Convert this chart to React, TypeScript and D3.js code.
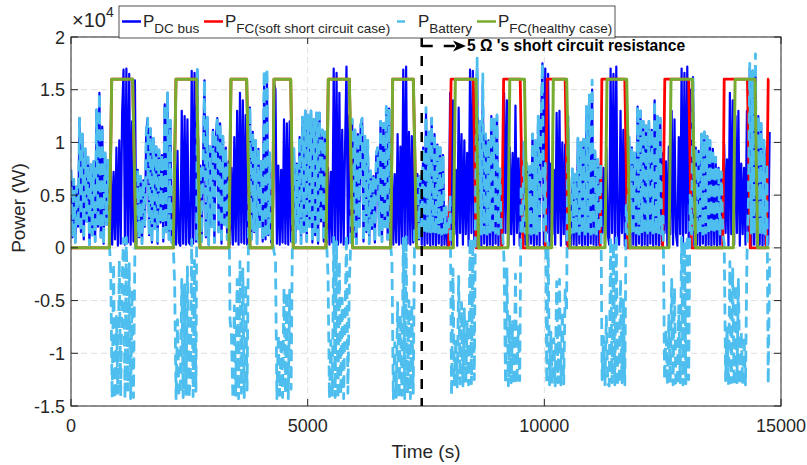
import React from 'react';
import * as d3 from 'd3';

// ---------------- data ----------------
const SAMPLE_STEP_S = 30; // one reading every 30 s

// P_DC bus in kW, one value per sample
const dcBusKW = [
  7.4,1.0,6.5,0.5,5.8,2.0,12.3,1.5,10.8,0.8,9.4,2.5,8.6,0.3,7.9,1.2,8.2,0.6,13.1,2.0,14.7,1.0,11.5,0.4,9.0,2.2,8.3,
  0.5,7.8,0.3,7.2,0.8,9.5,0.2,10.2,0.4,12.8,16.9,0.3,17.0,0.5,16.5,0.3,12.0,0.6,15.9,
  0.5,7.4,1.0,6.8,0.4,6.4,2.0,11.0,12.3,1.2,11.3,0.5,10.4,1.8,9.6,0.4,9.3,2.4,8.8,0.6,13.6,1.5,14.7,0.8,12.1,0.5,
  0.4,9.6,0.3,9.2,0.5,0.2,13.0,0.4,12.5,0.3,12.2,0.5,0.3,16.8,0.4,16.6,0.6,16.9,0.5,
  7.8,0.6,8.0,15.9,1.0,12.4,0.3,9.6,2.0,11.2,0.5,10.4,12.3,1.5,11.8,0.4,10.6,2.2,9.5,0.8,
  8.2,0.4,7.6,0.3,10.5,0.6,13.0,0.3,14.7,0.5,14.0,0.4,12.6,0.3,11.0,
  13.3,0.8,11.0,1.5,10.2,0.4,9.4,2.0,8.2,0.6,15.5,0.8,16.4,1.2,9.0,0.5,
  0.5,15.6,15.0,0.4,7.8,0.3,7.4,0.5,12.2,0.4,11.8,0.3,12.0,0.6,
  2.0,9.4,0.5,8.0,1.8,10.5,0.4,12.4,1.5,13.0,0.6,12.6,2.0,13.0,0.5,12.2,1.2,12.8,0.4,12.8,2.5,11.2,0.6,11.0,
  0.5,7.6,0.3,7.2,0.5,17.0,0.4,16.6,0.3,14.7,0.5,11.2,0.3,9.6,17.2,0.4,12.6,0.5,12.2,
  1.0,11.2,0.4,10.8,2.0,11.6,12.3,0.6,10.6,1.5,10.2,0.4,7.3,1.8,6.8,0.5,9.0,9.5,1.2,12.0,0.6,11.8,2.0,13.4,0.8,13.2,
  0.4,7.4,0.3,7.0,0.5,10.8,0.3,9.6,0.4,16.9,0.3,17.2,0.4,11.0,0.3,10.6,0.5,9.5,
  0.5,7.0,0.8,6.8,0.3,9.5,0.2,12.8,0.4,11.0,0.2,12.3,0.3,10.8,0.2,9.8,0.4,9.5,0.2,8.8,0.3,3.9,0.2,
  1.4,14.7,0.3,14.0,1.3,7.4,0.2,13.3,1.4,10.8,0.3,10.2,1.3,9.0,0.2,16.9,1.4,16.8,0.3,14.0,17.0,
  0.3,12.0,0.2,15.5,0.4,10.8,0.2,10.2,0.3,12.5,0.2,12.2,0.4,12.6,0.2,7.5,0.3,
  0.3,14.7,1.4,14.0,0.2,9.5,1.3,9.0,0.3,13.5,1.4,8.5,0.2,10.5,1.3,10.0,0.3,8.0,
  0.2,7.7,0.4,10.8,0.2,10.2,0.3,12.5,0.2,12.0,17.5,
  0.3,17.0,1.4,16.5,0.2,8.0,1.3,7.4,0.3,12.8,1.4,13.0,0.2,10.0,1.3,9.8,0.3,12.5,1.4,
  0.2,7.5,0.3,7.0,0.2,10.4,0.4,10.0,0.2,10.3,0.3,13.4,0.2,14.5,0.4,15.0,0.3,9.2,0.2,8.4,
  0.3,8.0,1.4,7.6,0.2,9.5,1.3,0.3,17.0,1.4,16.5,0.2,17.2,1.3,0.3,13.0,1.4,11.2,0.2,12.0,1.3,10.5,
  0.2,9.5,0.3,9.0,0.2,13.4,0.4,13.0,0.2,12.0,0.3,11.6,0.2,12.0,0.4,11.2,0.2,14.0,0.3,12.5,0.2,12.3,0.3,
  9.0,1.4,8.2,0.2,9.6,1.3,13.0,0.3,12.2,1.4,0.2,10.5,1.3,17.0,0.3,16.6,1.4,17.2,0.2,15.0,1.3,16.2,
  0.2,9.5,0.3,9.2,0.2,10.8,0.4,11.0,0.2,10.6,0.3,10.2,0.2,9.4,0.3,8.6,0.2,7.6,0.3,7.2,
  0.3,9.8,1.4,8.4,0.2,14.7,1.3,14.0,0.3,12.5,1.4,13.0,0.2,8.0,1.3,7.6,0.3,13.0,1.4,17.0,0.2,16.8,0.3,17.2,0.2,12.5,0.3,11.8,0.2,10.2,0.3,
  9.5,0.3,11.0,
];

// P_Battery in kW, one value per sample
const batteryKW = [
  7.4,1.0,6.5,0.5,5.8,2.0,12.3,1.5,10.8,0.8,9.4,2.5,8.6,0.3,7.9,1.2,8.2,0.6,13.1,2.0,14.7,1.0,11.5,0.4,9.0,2.2,8.3,
  0.5,-2.2,-14.2,-1.5,-14.3,-6.5,-13.8,-1.2,-14.1,-3.2,0.9,-14.3,1.0,-13.5,-1.5,-14.3,-4.0,-14.2,-0.1,
  0.5,7.4,1.0,6.8,0.4,6.4,2.0,11.0,12.3,1.2,11.3,0.5,10.4,1.8,9.6,0.4,9.3,2.4,8.8,0.6,13.6,1.5,14.7,0.8,12.1,0.5,
  0.4,-3.5,-14.3,-6.8,-14.0,-13.5,-3.0,-14.2,-3.5,-13.9,-1.8,-14.3,-12.5,0.8,-14.1,-1.2,-13.6,16.9,0.5,
  7.8,0.6,8.0,15.9,1.0,12.4,0.3,9.6,2.0,11.2,0.5,10.4,12.3,1.5,11.8,0.4,10.6,2.2,9.5,0.8,
  8.2,-6.8,-8.4,-14.3,-5.5,-14.0,-3.0,-14.3,-1.3,-13.8,-2.0,-14.2,-3.4,-13.5,1.5,
  13.3,0.8,11.0,1.5,10.2,0.4,9.4,2.0,8.2,0.6,16.8,0.8,17.0,1.2,9.0,0.5,
  0.5,-0.4,-1.0,-14.3,-8.2,-14.0,-8.6,-14.2,-3.8,-13.8,-4.2,-14.3,-4.0,-13.4,
  2.0,9.4,0.5,8.0,1.8,10.5,0.4,12.4,1.5,13.0,0.6,12.6,2.0,13.0,0.5,12.2,1.2,12.8,0.4,12.8,2.5,11.2,0.6,11.0,
  0.5,-2.5,-14.3,-8.8,-14.1,1.0,-14.2,0.6,-14.3,-1.3,-13.9,-4.8,-14.3,-6.4,1.2,-13.8,-3.4,0.5,12.2,
  1.0,11.2,0.4,10.8,2.0,11.6,12.3,0.6,10.6,1.5,10.2,0.4,7.3,1.8,6.8,0.5,9.0,9.5,1.2,12.0,0.6,11.8,2.0,13.4,0.8,13.2,
  0.4,-1.2,-14.3,-9.0,-14.2,-5.2,-14.3,-6.4,-14.0,0.9,-14.3,1.2,-13.8,-5.0,-14.3,-5.4,-13.9,2.0,
  0.5,7.0,0.8,6.8,1.4,9.5,1.3,13.3,1.4,11.0,1.5,12.3,1.4,10.8,1.3,9.8,1.4,9.5,1.3,8.8,1.4,3.9,1.4,
  1.4,5.0,-14.0,-2.0,-13.0,-8.6,-13.2,-2.7,-12.9,-5.2,-13.1,-5.8,-12.8,-7.0,-13.0,0.9,-12.9,0.8,-12.5,6.0,18.0,
  1.4,12.0,1.3,16.5,1.4,10.8,1.3,10.2,1.5,12.5,1.3,12.2,1.4,12.6,1.3,7.5,1.4,
  1.4,-1.3,-12.9,-2.0,-13.1,-6.5,-12.8,-7.0,-13.0,-2.5,-12.9,-7.5,-12.6,6.0,1.4,10.0,1.4,8.0,
  1.4,7.7,1.3,10.8,1.4,10.2,1.3,12.5,1.4,12.0,17.5,
  1.4,8.0,-12.8,0.5,-13.0,-8.0,-12.9,-8.6,-13.1,-3.2,-12.8,-3.0,-13.0,-6.0,-12.9,-4.0,-6.0,12.5,1.4,
  1.4,7.5,1.3,7.0,1.4,10.4,1.3,10.0,1.4,10.3,1.3,13.4,1.4,14.5,1.3,15.9,1.4,9.2,1.3,8.4,
  1.4,8.0,-12.5,-8.4,-13.0,-6.5,-12.9,-13.1,1.0,-12.8,0.5,-13.0,1.2,-12.9,-13.0,-3.0,-12.8,-4.8,-13.0,4.0,1.3,10.5,
  1.4,9.5,1.3,9.0,1.4,13.4,1.3,13.0,1.4,12.0,1.3,11.6,1.4,12.0,1.3,11.2,1.4,14.0,1.3,12.5,1.4,12.3,1.3,
  3.0,-12.5,-7.8,-13.0,-6.4,-12.8,-3.0,-13.0,-3.8,-12.9,-13.1,-5.5,-12.8,1.0,-13.0,0.6,-12.9,1.2,-12.5,5.0,1.3,16.2,
  1.4,9.5,1.3,9.2,1.4,10.8,1.3,11.0,1.4,10.6,1.3,10.2,1.4,9.4,1.3,8.6,1.4,7.6,1.3,7.2,
  1.4,0.5,-12.6,-7.6,-13.0,-1.3,-12.8,-2.0,-13.0,-3.5,-12.8,-3.0,-13.0,-8.0,-12.9,-8.4,-13.0,-1.0,4.0,17.5,1.4,16.8,1.3,18.4,1.4,12.5,1.3,11.8,1.4,10.2,1.3,
  8.0,-12.9,-1.0,
];

// P_FC (healthy case): breakpoints (time s, kW)
const fcHealthyTimeS = [
  0, 809, 860, 1303, 1373, 2161, 2218, 2655, 2725, 3338, 3380, 3711, 3782,
  4253, 4289, 4641, 4697, 5387, 5436, 5880, 5951, 6754, 6796, 7232, 7303,
  8077, 8120, 8556, 8613, 9232, 9270, 9580, 9640, 10155, 10190, 10472, 10542,
  11282, 11324, 11740, 11810, 12634, 12676, 13126, 13197, 13993, 14030, 14451, 14507, 14760,
];
const fcHealthyKW = [
  0, 0, 16, 16, 0, 0, 16, 16, 0, 0, 16, 16, 0,
  0, 16, 16, 0, 0, 16, 16, 0, 0, 16, 16, 0,
  0, 16, 16, 0, 0, 16, 16, 0, 0, 16, 16, 0,
  0, 16, 16, 0, 0, 16, 16, 0, 0, 16, 16, 0, 0,
];

// P_FC (soft short circuit case): breakpoints (time s, kW)
const fcSoftTimeS = [
  0, 809, 860, 1303, 1373, 2161, 2218, 2655, 2725, 3338, 3380, 3711, 3782,
  4253, 4289, 4641, 4697, 5387, 5436, 5880, 5951, 6754, 6796, 7232, 7303,
  7980, 8030, 8500, 8560, 9100, 9140, 9490, 9550, 10020, 10060, 10440, 10500,
  11180, 11215, 11700, 11760, 12500, 12545, 13050, 13110, 13770, 13800, 14290, 14350,
  14690, 14730, 14745,
];
const fcSoftKW = [
  0, 0, 16, 16, 0, 0, 16, 16, 0, 0, 16, 16, 0,
  0, 16, 16, 0, 0, 16, 16, 0, 0, 16, 16, 0,
  0, 16, 16, 0, 0, 16, 16, 0, 0, 16, 16, 0,
  0, 16, 16, 0, 0, 16, 16, 0, 0, 16, 16, 0,
  0, 16, 16,
];

const xTickValues = [0, 5000, 10000, 15000];
const xTickLabels = ['0', '5000', '10000', '15000'];
const yTickValues = [-15000, -10000, -5000, 0, 5000, 10000, 15000, 20000];
const yTickLabels = ['-1.5', '-1', '-0.5', '0', '0.5', '1', '1.5', '2'];
const faultTimeS = 7410;
const annotationText = "5 \u03A9 's short circuit resistance";

// ---------------- drawing ----------------
const W = 807;
const H = 465;
const PL = 71, PR = 781, PT = 37, PB = 406;
const FONT = "'Liberation Sans', Arial, Helvetica, sans-serif";
const AX = '#262626';

const C_DC = '#0000FF';
const C_FCS = '#FF0000';
const C_BAT = '#4DBEEE';
const C_FCH = '#77AC30';

export default function App() {
  const x = d3.scaleLinear().domain([0, 15000]).range([PL, PR]);
  const y = d3.scaleLinear().domain([-15000, 20000]).range([PB, PT]);
  const line = d3.line<[number, number]>().x(d => x(d[0])).y(d => y(d[1]));

  const dcPts: [number, number][] = dcBusKW.map((v, i) => [i * SAMPLE_STEP_S, v * 1000]);
  const batPts: [number, number][] = batteryKW.map((v, i) => [i * SAMPLE_STEP_S, v * 1000]);
  const fchPts: [number, number][] = fcHealthyTimeS.map((t, i) => [t, fcHealthyKW[i] * 1000]);
  const fcsPts: [number, number][] = fcSoftTimeS.map((t, i) => [t, fcSoftKW[i] * 1000]);

  const fx = x(faultTimeS);

  const legendItems = [
    { color: C_DC, sub: 'DC bus', x0: 122, dash: undefined as string | undefined },
    { color: C_FCS, sub: 'FC(soft short circuit case)', x0: 204, dash: undefined },
    { color: C_BAT, sub: 'Battery', x0: 397, dash: '8,12' },
    { color: C_FCH, sub: 'FC(healthy case)', x0: 477, dash: undefined },
  ];

  return (
    <div style={{ position: 'absolute', left: 0, top: 0 }}>
      <svg width={W} height={H} viewBox={`0 0 ${W} ${H}`} style={{ display: 'block', background: '#fff' }}>
        <defs>
          <clipPath id="plotClip">
            <rect x={PL} y={PT} width={PR - PL} height={PB - PT} />
          </clipPath>
        </defs>
        <rect x={0} y={0} width={W} height={H} fill="#fff" />
        {/* grid */}
        <g stroke="#dedede" strokeWidth={1} strokeDasharray="6,4">
          {yTickValues.map(v => (
            <line key={'gy' + v} x1={PL} x2={PR} y1={y(v)} y2={y(v)} />
          ))}
          {xTickValues.map(v => (
            <line key={'gx' + v} x1={x(v)} x2={x(v)} y1={PT} y2={PB} />
          ))}
        </g>
        {/* series */}
        <g clipPath="url(#plotClip)" fill="none" strokeLinejoin="round">
          <path d={line(dcPts) || ''} stroke={C_DC} strokeWidth={2.2} />
          <path d={line(fcsPts) || ''} stroke={C_FCS} strokeWidth={2.8} />
          <path d={line(batPts) || ''} stroke={C_BAT} strokeWidth={2.8} strokeDasharray="11,6" />
          <path d={line(fchPts) || ''} stroke={C_FCH} strokeWidth={3} />
        </g>
        {/* axes box */}
        <rect x={PL} y={PT} width={PR - PL} height={PB - PT} fill="none" stroke={AX} strokeWidth={1} />
        <g stroke={AX} strokeWidth={1}>
          {yTickValues.map(v => (
            <g key={'ty' + v}>
              <line x1={PL} x2={PL + 7} y1={y(v)} y2={y(v)} />
              <line x1={PR} x2={PR - 7} y1={y(v)} y2={y(v)} />
            </g>
          ))}
          {xTickValues.map(v => (
            <g key={'tx' + v}>
              <line x1={x(v)} x2={x(v)} y1={PB} y2={PB - 7} />
              <line x1={x(v)} x2={x(v)} y1={PT} y2={PT + 7} />
            </g>
          ))}
        </g>
        {/* tick labels */}
        <g fontFamily={FONT} fontSize={18} fill={AX}>
          {yTickValues.map((v, i) => (
            <text key={'ly' + v} x={PL - 6} y={y(v) + 6.5} textAnchor="end">{yTickLabels[i]}</text>
          ))}
          {xTickValues.map((v, i) => (
            <text key={'lx' + v} x={x(v)} y={432} textAnchor="middle">{xTickLabels[i]}</text>
          ))}
        </g>
        {/* exponent */}
        <text x={72} y={27} fontFamily={FONT} fontSize={20} fill={AX}>
          ×10<tspan dy={-10} fontSize={14}>4</tspan>
        </text>
        {/* axis labels */}
        <text x={426} y={458} textAnchor="middle" fontFamily={FONT} fontSize={19} fill={AX}>Time (s)</text>
        <text transform="translate(25,208) rotate(-90)" textAnchor="middle" fontFamily={FONT} fontSize={19} fill={AX}>Power (W)</text>
        {/* fault annotation */}
        <line x1={fx} x2={fx} y1={PT} y2={PB} stroke="#000" strokeWidth={2.5} strokeDasharray="10,9" />
        <line x1={fx} x2={457} y1={46} y2={46} stroke="#000" strokeWidth={2.5} strokeDasharray="11,11" />
        <path d="M466,46 L453,40.5 L456.5,46 L453,51.5 Z" fill="#000" />
        <text x={467} y={51} fontFamily={FONT} fontSize={15.6} fontWeight="bold" fill="#000">{annotationText}</text>
        {/* legend */}
        <rect x={119} y={6} width={496} height={32} fill="#fff" stroke={AX} strokeWidth={0.8} />
        {legendItems.map(it => (
          <g key={it.sub}>
            <line x1={it.x0} x2={it.x0 + 19} y1={21.5} y2={21.5} stroke={it.color} strokeWidth={2.5} strokeDasharray={it.dash} />
            <text x={it.x0 + 21} y={27} fontFamily={FONT} fontSize={17} fill={AX}>
              P<tspan dy={6} fontSize={13.5}>{it.sub}</tspan>
            </text>
          </g>
        ))}
      </svg>
    </div>
  );
}
